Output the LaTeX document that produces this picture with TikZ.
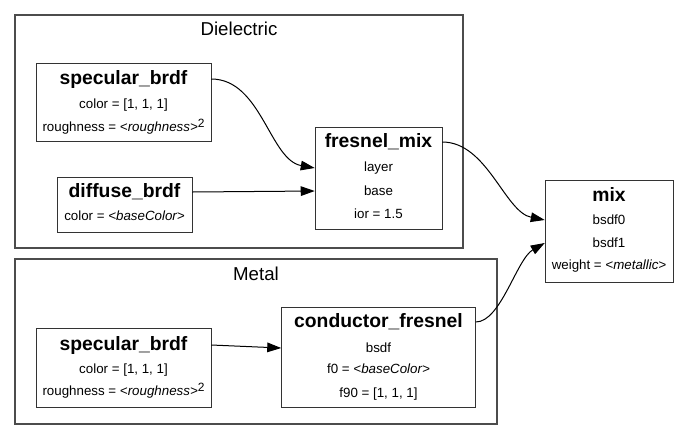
\documentclass[tikz,border=0pt]{standalone}
\usepackage{fontspec}
\setmainfont{Liberation Sans}
\usetikzlibrary{arrows.meta,positioning}

\newcommand{\sqrsup}{\raisebox{0.6ex}{\fontsize{9}{10}\selectfont 2}}

\tikzset{
  cluster/.style 2 args={draw=black!70, line width=0.8pt, inner sep=0pt,
    minimum width=#1*0.75pt, minimum height=#2*0.75pt},
  recbox/.style 2 args={draw=black!80, line width=0.75pt, inner sep=0pt,
    minimum width=#1*0.75pt, minimum height=#2*0.75pt},
  rectitle/.style={minimum width=#1*0.75pt, inner sep=0pt, font=\fontsize{14.5}{16}\selectfont\bfseries},
  recrow/.style={minimum width=#1*0.75pt, inner sep=0pt, font=\fontsize{10}{12}\selectfont},
  link/.style={line width=0.75pt, -{Triangle[length=10.5pt,width=7.2pt]}}
}

\begin{document}
\begin{tikzpicture}[x=0.75pt, y=-0.75pt]
  \useasboundingbox (0,0) rectangle (689,440);
  % Clusters
  \node[cluster={448}{233}] (diel) at (239,131.5) {};
  \node[font=\fontsize{14}{16}\selectfont] (diel-lbl) at (239,29) {Dielectric};
  \node[cluster={482}{165}] (metal) at (256,341.5) {};
  \node[font=\fontsize{14}{16}\selectfont] (metal-lbl) at (256,274) {Metal};
  % Dielectric: specular_brdf
  \node[recbox={175}{78}] (dspec) at (123.5,102) {};
  \node[rectitle=175] (dspec-t) at (123.5,79) {specular\_brdf};
  \node[recrow=175] (dspec-c) at (123.5,105) {color = [1, 1, 1]};
  \node[recrow=175] (dspec-r) at (123.5,127) {roughness = \textit{<roughness>}\sqrsup};
  % Dielectric: diffuse_brdf
  \node[recbox={135}{55}] (diff) at (124.5,204.5) {};
  \node[rectitle=135] (diff-t) at (124.5,192) {diffuse\_brdf};
  \node[recrow=135] (diff-c) at (124.5,216) {color = \textit{<baseColor>}};
  % Dielectric: fresnel_mix
  \node[recbox={127}{102}] (fmix) at (378.5,178) {};
  \node[rectitle=127] (fmix-t) at (378.5,142) {fresnel\_mix};
  \node[recrow=127] (fmix-layer) at (378.5,168) {layer};
  \node[recrow=127] (fmix-base) at (378.5,191) {base};
  \node[recrow=127] (fmix-ior) at (378.5,214) {ior = 1.5};
  % Metal: specular_brdf
  \node[recbox={175}{79}] (mspec) at (123.5,367.5) {};
  \node[rectitle=175] (mspec-t) at (123.5,345) {specular\_brdf};
  \node[recrow=175] (mspec-c) at (123.5,370) {color = [1, 1, 1]};
  \node[recrow=175] (mspec-r) at (123.5,391) {roughness = \textit{<roughness>}\sqrsup};
  % Metal: conductor_fresnel
  \node[recbox={194}{100}] (cond) at (378.5,357) {};
  \node[rectitle=194] (cond-t) at (378.5,322) {conductor\_fresnel};
  \node[recrow=194] (cond-bsdf) at (378.5,348) {bsdf};
  \node[recrow=194] (cond-f0) at (378.5,369) {f0 = \textit{<baseColor>}};
  \node[recrow=194] (cond-f90) at (378.5,394) {f90 = [1, 1, 1]};
  % mix
  \node[recbox={128}{102}] (mix) at (609,231) {};
  \node[rectitle=128] (mix-t) at (609,194) {mix};
  \node[recrow=128] (mix-b0) at (609,220) {bsdf0};
  \node[recrow=128] (mix-b1) at (609,243) {bsdf1};
  \node[recrow=128] (mix-w) at (609,266) {weight = \textit{<metallic>}};
  % Edges
  \draw[link] (dspec-t.east) .. controls +(50,0) and +(-45,-8) .. (fmix-layer.west);
  \draw[link] (diff-t.east) -- (fmix-base.west);
  \draw[link] (mspec-t.east) -- (cond-bsdf.west);
  \draw[link] (fmix-t.east) .. controls +(45,0) and +(-40,-8) .. (mix-b0.west);
  \draw[link] (cond-t.east) .. controls +(25,0) and +(-28,16) .. (mix-b1.west);
\end{tikzpicture}
\end{document}
